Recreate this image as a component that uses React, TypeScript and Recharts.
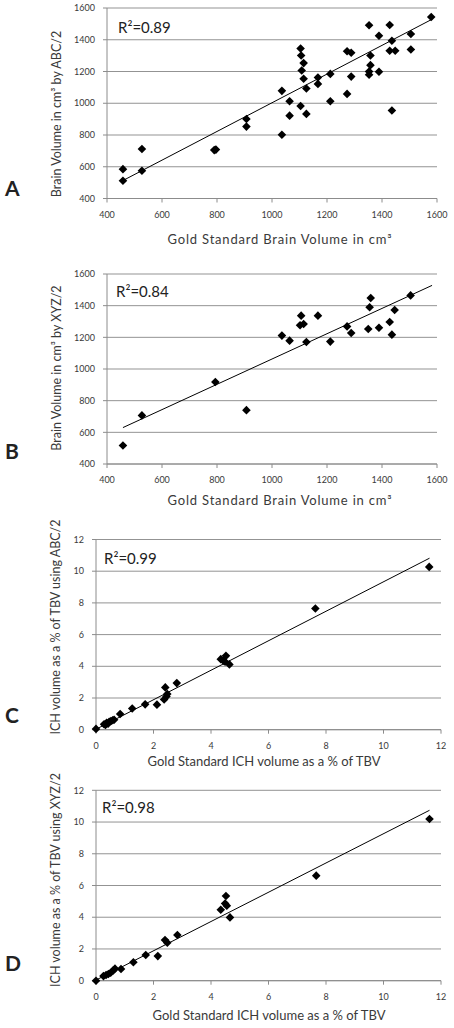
import React from 'react';
import { CartesianGrid, ReferenceLine, Scatter, ScatterChart, XAxis, YAxis } from 'recharts';

// A: gold standard vs ABC/2 brain volume (cm3)
const abcGoldVolume = [458, 458, 527, 527, 790, 796, 907, 907, 1036, 1036, 1064, 1064, 1104, 1106, 1115, 1108, 1115, 1104, 1125, 1125, 1167, 1167, 1212, 1212, 1273, 1288, 1288, 1273, 1353, 1358, 1358, 1353, 1353, 1389, 1389, 1428, 1436, 1428, 1448, 1436, 1505, 1505, 1579];
const abcBrainVolume = [585, 512, 712, 575, 705, 708, 901, 853, 1078, 802, 1013, 922, 1345, 1301, 1253, 1206, 1154, 983, 1093, 933, 1162, 1122, 1185, 1013, 1328, 1318, 1168, 1059, 1491, 1301, 1240, 1200, 1180, 1425, 1198, 1493, 1394, 1331, 1331, 954, 1436, 1339, 1543];
const abcTrendX = [460, 1583];
const abcTrendY = [515, 1530];

// B: gold standard vs XYZ/2 brain volume (cm3)
const xyzGoldVolume = [458, 527, 794, 907, 1036, 1064, 1106, 1102, 1115, 1125, 1167, 1212, 1273, 1288, 1350, 1355, 1359, 1389, 1428, 1436, 1446, 1504];
const xyzBrainVolume = [517, 707, 918, 740, 1211, 1179, 1337, 1276, 1284, 1171, 1337, 1173, 1269, 1227, 1253, 1390, 1448, 1261, 1297, 1217, 1373, 1465];
const xyzTrendX = [458, 1582];
const xyzTrendY = [630, 1528];

// C: ICH % of TBV, gold standard vs ABC/2
const abcGoldIch = [0, 0.28, 0.33, 0.37, 0.42, 0.46, 0.52, 0.58, 0.63, 0.84, 1.26, 1.71, 2.12, 2.37, 2.41, 2.45, 2.48, 2.81, 4.34, 4.43, 4.52, 4.49, 4.64, 7.63, 11.59];
const abcIch = [0.05, 0.34, 0.3, 0.44, 0.38, 0.5, 0.55, 0.6, 0.63, 0.99, 1.34, 1.6, 1.58, 1.91, 2.67, 2.1, 2.25, 2.94, 4.45, 4.35, 4.66, 4.29, 4.12, 7.65, 10.27];
const abcIchTrendX = [0, 11.6];
const abcIchTrendY = [0.03, 10.82];

// D: ICH % of TBV, gold standard vs XYZ/2
const xyzGoldIch = [0, 0.26, 0.35, 0.43, 0.51, 0.6, 0.66, 0.87, 1.3, 1.73, 2.15, 2.4, 2.48, 2.83, 4.34, 4.52, 4.49, 4.55, 4.66, 7.66, 11.6];
const xyzIch = [0, 0.29, 0.36, 0.42, 0.5, 0.65, 0.76, 0.74, 1.16, 1.62, 1.55, 2.56, 2.39, 2.88, 4.47, 5.34, 4.87, 4.73, 3.99, 6.62, 10.19];
const xyzIchTrendX = [0, 11.6];
const xyzIchTrendY = [0.04, 10.74];

const volumeTicks = [400, 600, 800, 1000, 1200, 1400, 1600];
const ichTicks = [0, 2, 4, 6, 8, 10, 12];

const toPoints = (xs: number[], ys: number[]) => xs.map((x, i) => ({ x, y: ys[i] }));

const Diamond = (props: any) => {
  const { cx, cy } = props;
  const r = 4.3;
  return <path d={`M${cx},${cy - r}L${cx + r},${cy}L${cx},${cy + r}L${cx - r},${cy}Z`} fill="#000" />;
};

const font = 'Lato, "Open Sans", sans-serif';
const textColor = '#3a3a3a';

type PanelProps = {
  letter: string;
  r2: string;
  xTitle: string;
  yTitle: string;
  points: { x: number; y: number }[];
  trend: { x: number; y: number }[];
  ticks: number[];
  top: number;
  height: number;
  plot: { left: number; right: number; top: number; bottom: number };
  letterTop: number;
  r2Pos: { left: number; top: number };
  xTitlePos: { cx: number; top: number; spacing: number };
  yTitlePos: { cx: number; cy: number };
};

function Panel(p: PanelProps) {
  const lo = p.ticks[0];
  const hi = p.ticks[p.ticks.length - 1];
  return (
    <>
      <div style={{ position: 'absolute', left: 0, top: p.top, width: 454, height: p.height }}>
        <ScatterChart
          width={454}
          height={p.height}
          margin={{ top: p.plot.top - p.top, right: 454 - p.plot.right, left: 0, bottom: 0 }}
        >
          <CartesianGrid vertical={false} stroke="#939393" strokeWidth={1} />
          <XAxis
            type="number"
            dataKey="x"
            domain={[lo, hi]}
            ticks={p.ticks}
            height={p.top + p.height - p.plot.bottom}
            stroke="#8c8c8c"
            tickSize={4}
            tickMargin={9}
            tick={{ fontSize: 9, fill: textColor, fontFamily: font }}
          />
          <YAxis
            type="number"
            dataKey="y"
            domain={[lo, hi]}
            ticks={p.ticks}
            width={p.plot.left}
            stroke="#8c8c8c"
            tickSize={4}
            tickMargin={8}
            tick={{ fontSize: 9, fill: textColor, fontFamily: font }}
          />
          <ReferenceLine segment={p.trend} stroke="#000" strokeWidth={1} ifOverflow="visible" />
          <Scatter data={p.points} shape={Diamond} isAnimationActive={false} />
        </ScatterChart>
      </div>
      <div style={{ position: 'absolute', left: 5, top: p.letterTop, fontSize: 21, fontWeight: 700, fontFamily: font, color: '#222', lineHeight: 1 }}>
        {p.letter}
      </div>
      <div style={{ position: 'absolute', left: p.r2Pos.left, top: p.r2Pos.top, fontSize: 15, fontFamily: font, color: '#222', lineHeight: 1 }}>
        {p.r2}
      </div>
      <div
        style={{
          position: 'absolute',
          left: p.xTitlePos.cx,
          top: p.xTitlePos.top,
          transform: 'translateX(-50%)',
          whiteSpace: 'nowrap',
          fontSize: 13,
          letterSpacing: p.xTitlePos.spacing,
          fontFamily: font,
          color: textColor,
          lineHeight: 1,
        }}
      >
        {p.xTitle}
      </div>
      <div
        style={{
          position: 'absolute',
          left: p.yTitlePos.cx,
          top: p.yTitlePos.cy,
          transform: 'translate(-50%, -50%) rotate(-90deg)',
          whiteSpace: 'nowrap',
          fontSize: 12.5,
          fontFamily: font,
          color: textColor,
          lineHeight: 1,
        }}
      >
        {p.yTitle}
      </div>
    </>
  );
}

export default function App() {
  return (
    <div style={{ position: 'absolute', left: 0, top: 0, width: 454, height: 1028, background: '#fff', overflow: 'hidden' }}>
      <Panel
        letter="A"
        r2="R²=0.89"
        xTitle="Gold Standard Brain Volume in cm³"
        yTitle="Brain Volume in cm³ by ABC/2"
        points={toPoints(abcGoldVolume, abcBrainVolume)}
        trend={toPoints(abcTrendX, abcTrendY)}
        ticks={volumeTicks}
        top={0}
        height={225}
        plot={{ left: 107, right: 437, top: 8, bottom: 198.5 }}
        letterTop={177}
        r2Pos={{ left: 118, top: 20 }}
        xTitlePos={{ cx: 280, top: 233, spacing: 0.8 }}
        yTitlePos={{ cx: 57, cy: 114 }}
      />
      <Panel
        letter="B"
        r2="R²=0.84"
        xTitle="Gold Standard Brain Volume in cm³"
        yTitle="Brain Volume in cm³ by XYZ/2"
        points={toPoints(xyzGoldVolume, xyzBrainVolume)}
        trend={toPoints(xyzTrendX, xyzTrendY)}
        ticks={volumeTicks}
        top={265}
        height={225}
        plot={{ left: 107, right: 437, top: 274, bottom: 464 }}
        letterTop={440}
        r2Pos={{ left: 116, top: 284 }}
        xTitlePos={{ cx: 280, top: 494, spacing: 0.8 }}
        yTitlePos={{ cx: 57, cy: 368 }}
      />
      <Panel
        letter="C"
        r2="R²=0.99"
        xTitle="Gold Standard ICH volume as a % of TBV"
        yTitle="ICH volume as a % of TBV using ABC/2"
        points={toPoints(abcGoldIch, abcIch)}
        trend={toPoints(abcIchTrendX, abcIchTrendY)}
        ticks={ichTicks}
        top={530}
        height={225}
        plot={{ left: 96, right: 441, top: 539.5, bottom: 729.7 }}
        letterTop={704}
        r2Pos={{ left: 104, top: 551 }}
        xTitlePos={{ cx: 264, top: 755, spacing: 0 }}
        yTitlePos={{ cx: 56, cy: 627 }}
      />
      <Panel
        letter="D"
        r2="R²=0.98"
        xTitle="Gold Standard ICH volume as a % of TBV"
        yTitle="ICH volume as a % of TBV using XYZ/2"
        points={toPoints(xyzGoldIch, xyzIch)}
        trend={toPoints(xyzIchTrendX, xyzIchTrendY)}
        ticks={ichTicks}
        top={785}
        height={225}
        plot={{ left: 96, right: 441, top: 790.3, bottom: 980.7 }}
        letterTop={952}
        r2Pos={{ left: 102, top: 800 }}
        xTitlePos={{ cx: 269, top: 1009, spacing: 0 }}
        yTitlePos={{ cx: 56, cy: 880 }}
      />
    </div>
  );
}
